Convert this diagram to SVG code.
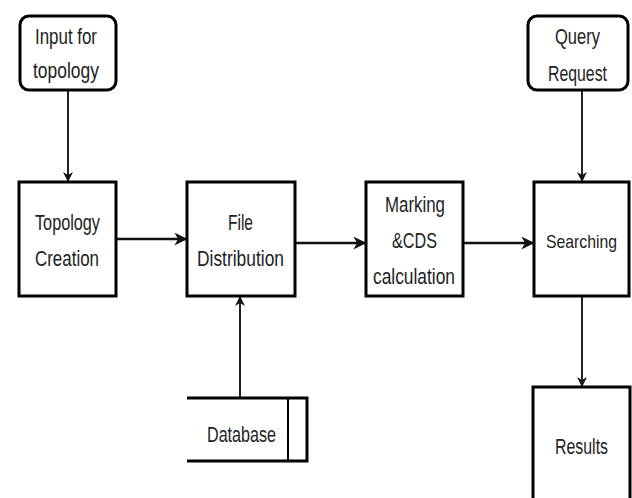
<svg xmlns="http://www.w3.org/2000/svg" width="632" height="498" viewBox="0 0 632 498">
<style>
.box{fill:#fff;stroke:#000;stroke-width:3}
.t{font-family:"Liberation Sans",Arial,sans-serif;font-size:22px;fill:#222;text-anchor:middle}
.c{fill:none;stroke:#111;stroke-width:2.6}
.thin{fill:none;stroke:#222;stroke-width:2}
</style>
<defs>
<marker id="ah" viewBox="0 0 10 10" refX="9" refY="5" markerWidth="5" markerHeight="5" orient="auto" markerUnits="strokeWidth">
<path d="M0,0 L10,5 L0,10 L3,5 Z" fill="#111"/>
</marker>
</defs>
<rect width="632" height="498" fill="#fff"/>
<g id="connectors">
<path class="thin" d="M68,90 V181" marker-end="url(#ah)"/>
<path class="c" d="M116,239 H186" marker-end="url(#ah)"/>
<path class="c" d="M295,243 H365" marker-end="url(#ah)"/>
<path class="c" d="M463,243 H533" marker-end="url(#ah)"/>
<path class="thin" d="M582,90 V181" marker-end="url(#ah)"/>
<path class="thin" d="M582,296 V386" marker-end="url(#ah)"/>
<path class="thin" d="M240,398 V297" marker-end="url(#ah)"/>
</g>
<g id="input">
<rect class="box" x="20" y="16" width="96" height="74" rx="9"/>
<text class="t" x="66" y="44" textLength="62" lengthAdjust="spacingAndGlyphs">Input for</text>
<text class="t" x="66" y="78" textLength="66" lengthAdjust="spacingAndGlyphs">topology</text>
</g>
<g id="query">
<rect class="box" x="528" y="16" width="100" height="74" rx="9"/>
<text class="t" x="577.5" y="44" textLength="45" lengthAdjust="spacingAndGlyphs">Query</text>
<text class="t" x="577.5" y="81" textLength="59" lengthAdjust="spacingAndGlyphs">Request</text>
</g>
<g id="topology">
<rect class="box" x="19" y="182" width="97" height="114"/>
<text class="t" x="67.5" y="230" textLength="65" lengthAdjust="spacingAndGlyphs">Topology</text>
<text class="t" x="67" y="266" textLength="64" lengthAdjust="spacingAndGlyphs">Creation</text>
</g>
<g id="file">
<rect class="box" x="187" y="182" width="108" height="114"/>
<text class="t" x="240.5" y="230" textLength="25" lengthAdjust="spacingAndGlyphs">File</text>
<text class="t" x="240.5" y="266" textLength="87" lengthAdjust="spacingAndGlyphs">Distribution</text>
</g>
<g id="marking">
<rect class="box" x="366" y="182" width="97" height="114"/>
<text class="t" x="415" y="212" textLength="60" lengthAdjust="spacingAndGlyphs">Marking</text>
<text class="t" x="414.5" y="248" textLength="45" lengthAdjust="spacingAndGlyphs">&amp;CDS</text>
<text class="t" x="414" y="284" textLength="82" lengthAdjust="spacingAndGlyphs">calculation</text>
</g>
<g id="searching">
<rect class="box" x="534" y="182" width="95" height="114"/>
<text class="t" x="581.5" y="248" font-size="19" style="font-size:19px" textLength="71" lengthAdjust="spacingAndGlyphs">Searching</text>
</g>
<g id="results">
<path class="box" d="M533,500 V387 H630 V500"/>
<text class="t" x="581.5" y="454" textLength="53" lengthAdjust="spacingAndGlyphs">Results</text>
</g>
<g id="database">
<path fill="none" stroke="#000" stroke-width="3" d="M187,398 H307 V461 H187"/>
<path fill="none" stroke="#000" stroke-width="2" d="M288,398 V461"/>
<text class="t" x="241.5" y="442" textLength="69" lengthAdjust="spacingAndGlyphs">Database</text>
</g>
</svg>
